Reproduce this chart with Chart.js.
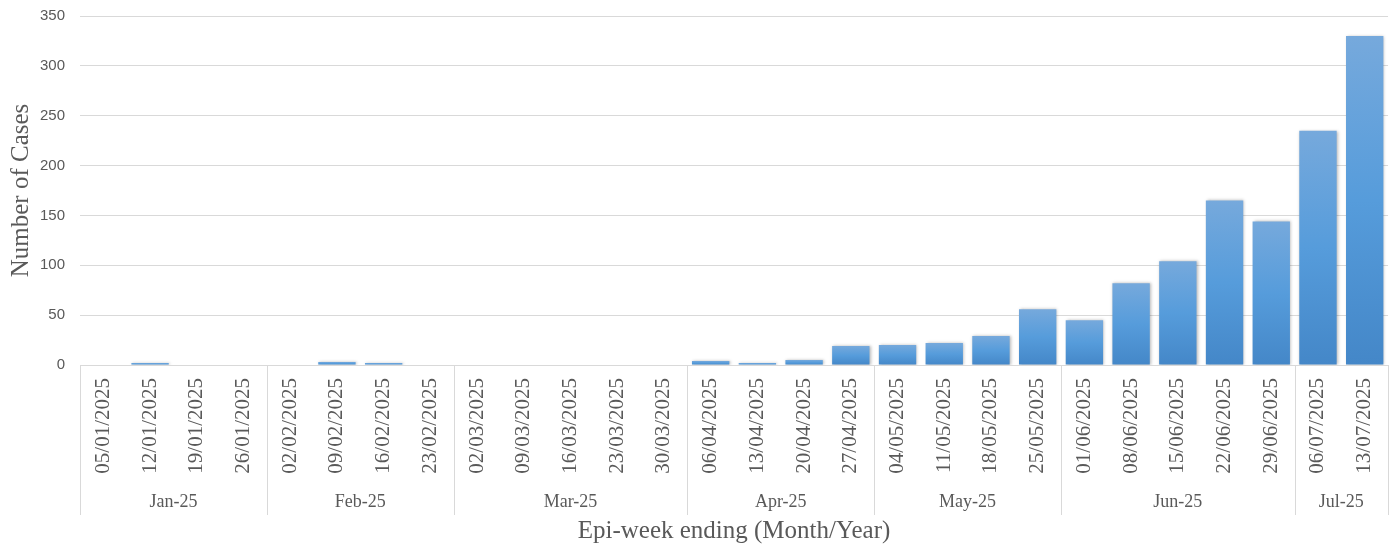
<!DOCTYPE html>
<html>
<head>
<meta charset="utf-8">
<script src="https://cdn.jsdelivr.net/npm/chart.js@4.4.1/dist/chart.umd.min.js"></script>
<style>
  html, body { margin: 0; padding: 0; background: #fff; }
</style>
</head>
<body>
<canvas id="epiChart" width="1395" height="546"></canvas>
<script>
"use strict";

const weekLabels = [
  "05/01/2025", "12/01/2025", "19/01/2025", "26/01/2025",
  "02/02/2025", "09/02/2025", "16/02/2025", "23/02/2025",
  "02/03/2025", "09/03/2025", "16/03/2025", "23/03/2025", "30/03/2025",
  "06/04/2025", "13/04/2025", "20/04/2025", "27/04/2025",
  "04/05/2025", "11/05/2025", "18/05/2025", "25/05/2025",
  "01/06/2025", "08/06/2025", "15/06/2025", "22/06/2025", "29/06/2025",
  "06/07/2025", "13/07/2025"
];

const weekCases = [
  0, 2, 0, 0,
  0, 3, 2, 0,
  0, 0, 0, 0, 0,
  4, 2, 5, 19,
  20, 22, 29, 56,
  45, 82, 104, 165, 144,
  235, 330
];

const monthLabels = ["Jan-25", "Feb-25", "Mar-25", "Apr-25", "May-25", "Jun-25", "Jul-25"];
const weeksPerMonth = [4, 4, 5, 4, 4, 5, 2];

const textGrey = "#595959";
const gridGrey = "#d9d9d9";
const serif = "'Liberation Serif', 'Times New Roman', serif";

function barGradient(context) {
  const chart = context.chart;
  const area = chart.chartArea;
  if (!area || context.parsed == null) return "#5b9bd5";
  const yScale = chart.scales.y;
  const top = yScale.getPixelForValue(context.parsed.y);
  const base = yScale.getPixelForValue(0);
  if (base - top < 1) return "#5b9bd5";
  const g = chart.ctx.createLinearGradient(0, top, 0, base);
  g.addColorStop(0, "#76a9dc");
  g.addColorStop(0.5, "#569cdb");
  g.addColorStop(1, "#4487c8");
  return g;
}

const barShadow = {
  id: "barShadow",
  beforeDatasetsDraw(chart) {
    const ctx = chart.ctx;
    ctx.save();
    ctx.shadowColor = "rgba(0,0,0,0.28)";
    ctx.shadowBlur = 3;
    ctx.shadowOffsetX = 1;
    ctx.shadowOffsetY = 0;
  },
  afterDatasetsDraw(chart) {
    chart.ctx.restore();
  }
};

// two-level category axis: month separators and month names under the week labels
const monthGroups = {
  id: "monthGroups",
  afterDraw(chart) {
    const xs = chart.scales.x;
    const ctx = chart.ctx;
    const half = (xs.getPixelForValue(1) - xs.getPixelForValue(0)) / 2;
    const lineTop = xs.top;
    const lineBottom = xs.top + 150;
    const labelY = xs.top + 137;

    ctx.save();
    ctx.strokeStyle = gridGrey;
    ctx.lineWidth = 1;
    ctx.fillStyle = textGrey;
    ctx.font = "18px " + serif;
    ctx.textAlign = "center";
    ctx.textBaseline = "middle";

    let start = 0;
    const edges = [];
    weeksPerMonth.forEach((n, i) => {
      const left = xs.getPixelForValue(start) - half;
      const right = xs.getPixelForValue(start + n - 1) + half;
      edges.push(left);
      if (i === weeksPerMonth.length - 1) edges.push(right);
      ctx.fillText(monthLabels[i], (left + right) / 2, labelY);
      start += n;
    });

    edges.forEach((px) => {
      const x = Math.round(px) + 0.5;
      ctx.beginPath();
      ctx.moveTo(x, lineTop);
      ctx.lineTo(x, lineBottom);
      ctx.stroke();
    });
    ctx.restore();
  }
};

const canvas = document.getElementById("epiChart");
new Chart(canvas, {
  type: "bar",
  data: {
    labels: weekLabels,
    datasets: [
      {
        label: "Number of Cases",
        data: weekCases,
        backgroundColor: barGradient,
        borderWidth: 0,
        categoryPercentage: 1,
        barPercentage: 0.8,
      },
    ],
  },
  options: {
    responsive: false,
    animation: false,
    layout: {
      padding: { top: 16, right: 6, bottom: 0, left: 0 },
    },
    plugins: {
      legend: { display: false },
      tooltip: { enabled: false },
    },
    scales: {
      x: {
        grid: { display: false },
        border: { display: true, color: gridGrey },
        ticks: {
          autoSkip: false,
          minRotation: 90,
          maxRotation: 90,
          padding: 5,
          color: textGrey,
          font: { family: serif, size: 21 },
        },
        title: {
          display: true,
          text: "Epi-week ending (Month/Year)",
          color: textGrey,
          font: { family: serif, size: 25 },
          padding: { top: 0, bottom: 0 },
        },
        afterFit(scale) {
          scale.height = 181;
          scale.paddingTop = 0;
        },
      },
      y: {
        min: 0,
        max: 350,
        grid: { color: gridGrey, drawTicks: false },
        border: { display: false },
        ticks: {
          stepSize: 50,
          padding: 15,
          color: textGrey,
          font: { family: "'Liberation Sans', Arial, sans-serif", size: 15 },
        },
        title: {
          display: true,
          text: "Number of Cases",
          color: textGrey,
          font: { family: serif, size: 25 },
          padding: { top: 6, bottom: 0 },
        },
        afterFit(scale) {
          scale.width = 80;
          scale.paddingTop = 0;
          scale.paddingBottom = 0;
        },
      },
    },
  },
  plugins: [barShadow, monthGroups],
});
</script>
</body>
</html>
